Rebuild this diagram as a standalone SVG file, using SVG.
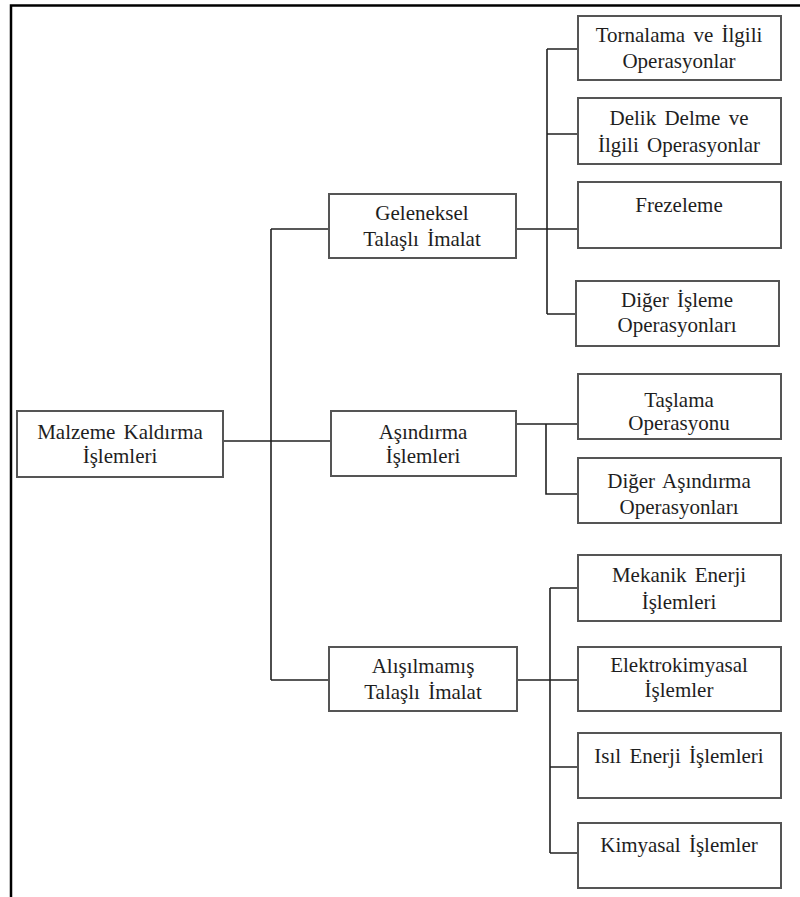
<svg xmlns="http://www.w3.org/2000/svg" width="800" height="897" viewBox="0 0 800 897">
<style>
.box{fill:#fff;stroke:#555;stroke-width:2}
.t{font-family:'Liberation Serif','Times New Roman',serif;font-size:21px;fill:#1e1e1e;text-anchor:middle;word-spacing:3px}
.c{fill:none;stroke:#222;stroke-width:1.6}
.frame{fill:none;stroke:#000;stroke-width:2.5}
</style>
<rect width="800" height="897" fill="#fff"/>
<path class="frame" d="M800,5.5 H11 V897"/>
<g id="connectors">
<path class="c" d="M223,441 H331 M271,229 V680 M271,229 H329 M271,680 H329"/>
<path class="c" d="M516,229 H578 M547,49 V314 M547,49 H578 M547,134 H578 M547,314 H576"/>
<path class="c" d="M516,424 H578 M546,424 V494 H578"/>
<path class="c" d="M517,680 H578 M550,588 V853 M550,588 H578 M550,767 H578 M550,853 H578"/>
</g>
<g id="malzeme"><rect class="box" x="17" y="411" width="206" height="66"/><text class="t" x="120" y="439">Malzeme Kaldırma</text><text class="t" x="120" y="463">İşlemleri</text></g>
<g id="geleneksel"><rect class="box" x="329" y="194" width="187" height="64"/><text class="t" x="422" y="220">Geleneksel</text><text class="t" x="422" y="246">Talaşlı İmalat</text></g>
<g id="asindirma"><rect class="box" x="331" y="411" width="185" height="65"/><text class="t" x="423" y="439">Aşındırma</text><text class="t" x="423" y="463">İşlemleri</text></g>
<g id="alisilmamis"><rect class="box" x="329" y="647" width="188" height="64"/><text class="t" x="423" y="673">Alışılmamış</text><text class="t" x="423" y="699">Talaşlı İmalat</text></g>
<g id="tornalama"><rect class="box" x="578" y="16" width="203" height="64"/><text class="t" x="679" y="42">Tornalama ve İlgili</text><text class="t" x="679" y="68">Operasyonlar</text></g>
<g id="delik"><rect class="box" x="578" y="98" width="203" height="66"/><text class="t" x="679" y="125">Delik Delme ve</text><text class="t" x="679" y="152">İlgili Operasyonlar</text></g>
<g id="frezeleme"><rect class="box" x="578" y="182" width="203" height="66"/><text class="t" x="679" y="212">Frezeleme</text></g>
<g id="diger-isleme"><rect class="box" x="576" y="281" width="203" height="65"/><text class="t" x="677" y="307">Diğer İşleme</text><text class="t" x="677" y="332">Operasyonları</text></g>
<g id="taslama"><rect class="box" x="578" y="374" width="203" height="65"/><text class="t" x="679" y="407">Taşlama</text><text class="t" x="679" y="430">Operasyonu</text></g>
<g id="diger-asindirma"><rect class="box" x="578" y="458" width="203" height="65"/><text class="t" x="679" y="488">Diğer Aşındırma</text><text class="t" x="679" y="514">Operasyonları</text></g>
<g id="mekanik"><rect class="box" x="578" y="555" width="203" height="66"/><text class="t" x="679" y="582">Mekanik Enerji</text><text class="t" x="679" y="609">İşlemleri</text></g>
<g id="elektrokimyasal"><rect class="box" x="578" y="647" width="203" height="64"/><text class="t" x="679" y="672">Elektrokimyasal</text><text class="t" x="679" y="697">İşlemler</text></g>
<g id="isil"><rect class="box" x="578" y="733" width="203" height="65"/><text class="t" x="679" y="763">Isıl Enerji İşlemleri</text></g>
<g id="kimyasal"><rect class="box" x="578" y="823" width="203" height="65"/><text class="t" x="679" y="852">Kimyasal İşlemler</text></g>
</svg>
